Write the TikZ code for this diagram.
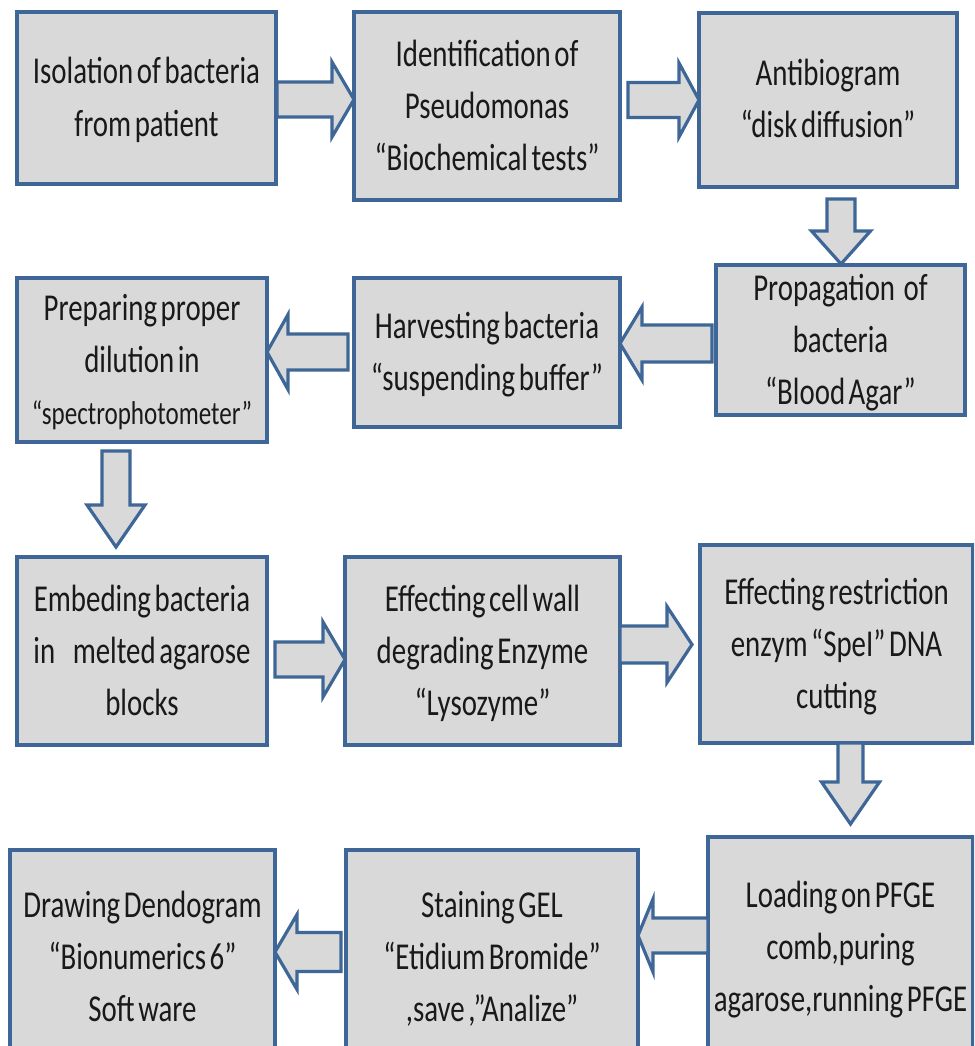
\documentclass[tikz,border=0pt]{standalone}
\usepackage{fontspec}
\usetikzlibrary{calc}
\newfontfamily\boxfont{Carlito}[FakeStretch=0.76, WordSpace=0.55]
\definecolor{boxfill}{RGB}{217,217,217}
\definecolor{boxline}{RGB}{62,103,152}
\definecolor{txt}{RGB}{25,25,25}
\tikzset{
  stepbox/.style={draw=boxline, fill=boxfill, line width=3.6pt, inner sep=0pt, outer sep=0pt,
    align=center, text=txt, font=\boxfont\fontsize{38pt}{52pt}\selectfont},
  blockarrow/.style={draw=boxline, fill=boxfill, line width=3.2pt, line join=miter}
}
% start, head base, tip, shaft half-width, head half-width
\newcommand{\barrow}[5]{%
  \draw[blockarrow] ($(#1)!#4!90:(#3)$) -- ($(#2)!#4!90:(#3)$) -- ($(#2)!#5!90:(#3)$) -- (#3)
    -- ($(#2)!#5!-90:(#3)$) -- ($(#2)!#4!-90:(#3)$) -- ($(#1)!#4!-90:(#3)$) -- cycle;}
\newcommand{\boxat}[6]{% name, left, top, right, bottom, text
  \node[stepbox, minimum width={#4-#2}, minimum height={#5-#3}] (#1) at ({(#2+#4)/2},{(#3+#5)/2})
    {\rule{0pt}{34pt}#6\rule[-10pt]{0pt}{10pt}};}
\begin{document}
\begin{tikzpicture}[x=1pt,y=-1pt]
\useasboundingbox (0,0) rectangle (974,1046);
\clip (0,0) rectangle (974,1046);
\fill[white] (0,0) rectangle (974,1046);
% row 1
\boxat{B1}{17}{12}{276}{184}{Isolation of bacteria\\from patient}
\boxat{B2}{354}{12}{620}{200}{Identification of\\Pseudomonas\\“Biochemical tests”}
\boxat{B3}{699}{13}{957}{187}{Antibiogram\\“disk diffusion”}
% row 2
\boxat{B4}{716}{265}{965}{415}{Propagation\hspace{5pt} of\\bacteria\\“Blood Agar”}
\boxat{B5}{354}{278}{620}{427}{Harvesting bacteria\\“suspending buffer”}
\boxat{B6}{17}{278}{267}{442}{Preparing proper\\dilution in\\{\fontsize{33pt}{52pt}\selectfont “spectrophotometer”}}
% row 3
\boxat{B7}{17}{557}{267}{745}{Embeding bacteria\\in\hspace{14pt} melted agarose\\blocks}
\boxat{B8}{345}{557}{620}{745}{Effecting cell wall\\degrading Enzyme\\“Lysozyme”}
\boxat{B9}{700}{545}{973}{743}{Effecting restriction\\enzym “SpeI” DNA\\cutting}
% row 4 (cut off at the bottom)
\boxat{B10}{708}{837}{973}{1057}{Loading on PFGE\\comb,puring\\agarose,running PFGE}
\boxat{B11}{346}{850}{638}{1064}{Staining GEL\\“Etidium Bromide”\\,save ,”Analize”}
\boxat{B12}{10}{850}{275}{1064}{Drawing Dendogram\\“Bionumerics 6”\\Soft ware}
% arrows
\coordinate (a1s) at ($(B1.east |- 0,99.5)+(1,0)$);
\coordinate (a1t) at (B2.west |- 0,99.5);
\coordinate (a1b) at ($(a1t)+(-22,0)$);
\barrow{a1s}{a1b}{a1t}{17.5pt}{37.5pt}
\coordinate (a2s) at ($(B2.east |- 0,100)+(8,0)$);
\coordinate (a2t) at (B3.west |- 0,100);
\coordinate (a2b) at ($(a2t)+(-20,0)$);
\barrow{a2s}{a2b}{a2t}{17.5pt}{37pt}
\coordinate (a3s) at ($(B3.south -| 841,0)+(0,12)$);
\coordinate (a3t) at ($(B4.north -| 841,0)+(0,-1)$);
\coordinate (a3b) at ($(a3t)+(0,-33)$);
\barrow{a3s}{a3b}{a3t}{14pt}{29.5pt}
\coordinate (a4s) at ($(B4.west |- 0,343.5)+(-4,0)$);
\coordinate (a4t) at (B5.east |- 0,343.5);
\coordinate (a4b) at ($(a4t)+(22,0)$);
\barrow{a4s}{a4b}{a4t}{18.5pt}{36.5pt}
\coordinate (a5s) at ($(B5.west |- 0,352)+(-6,0)$);
\coordinate (a5t) at (B6.east |- 0,352);
\coordinate (a5b) at ($(a5t)+(21,0)$);
\barrow{a5s}{a5b}{a5t}{18pt}{37.5pt}
\coordinate (a6s) at ($(B6.south -| 116,0)+(0,9)$);
\coordinate (a6t) at ($(B7.north -| 116,0)+(0,-10)$);
\coordinate (a6b) at ($(a6t)+(0,-42)$);
\barrow{a6s}{a6b}{a6t}{14pt}{29pt}
\coordinate (a7s) at ($(B7.east |- 0,659.5)+(8,0)$);
\coordinate (a7t) at (B8.west |- 0,659.5);
\coordinate (a7b) at ($(a7t)+(-22,0)$);
\barrow{a7s}{a7b}{a7t}{17.5pt}{37.5pt}
\coordinate (a8s) at (B8.east |- 0,644.5);
\coordinate (a8t) at ($(B9.west |- 0,644.5)+(-8,0)$);
\coordinate (a8b) at ($(a8t)+(-25,0)$);
\barrow{a8s}{a8b}{a8t}{18.5pt}{38pt}
\coordinate (a9s) at (B9.south -| 850.5,0);
\coordinate (a9t) at ($(B10.north -| 850.5,0)+(0,-13)$);
\coordinate (a9b) at ($(a9t)+(0,-42)$);
\barrow{a9s}{a9b}{a9t}{12.5pt}{29pt}
\coordinate (a10s) at (B10.west |- 0,935.5);
\coordinate (a10t) at (B11.east |- 0,935.5);
\coordinate (a10b) at ($(a10t)+(15,0)$);
\barrow{a10s}{a10b}{a10t}{17.5pt}{36.5pt}
\coordinate (a11s) at ($(B11.west |- 0,952)+(-5,0)$);
\coordinate (a11t) at (B12.east |- 0,952);
\coordinate (a11b) at ($(a11t)+(22,0)$);
\barrow{a11s}{a11b}{a11t}{19.5pt}{37.5pt}
\end{tikzpicture}
\end{document}
